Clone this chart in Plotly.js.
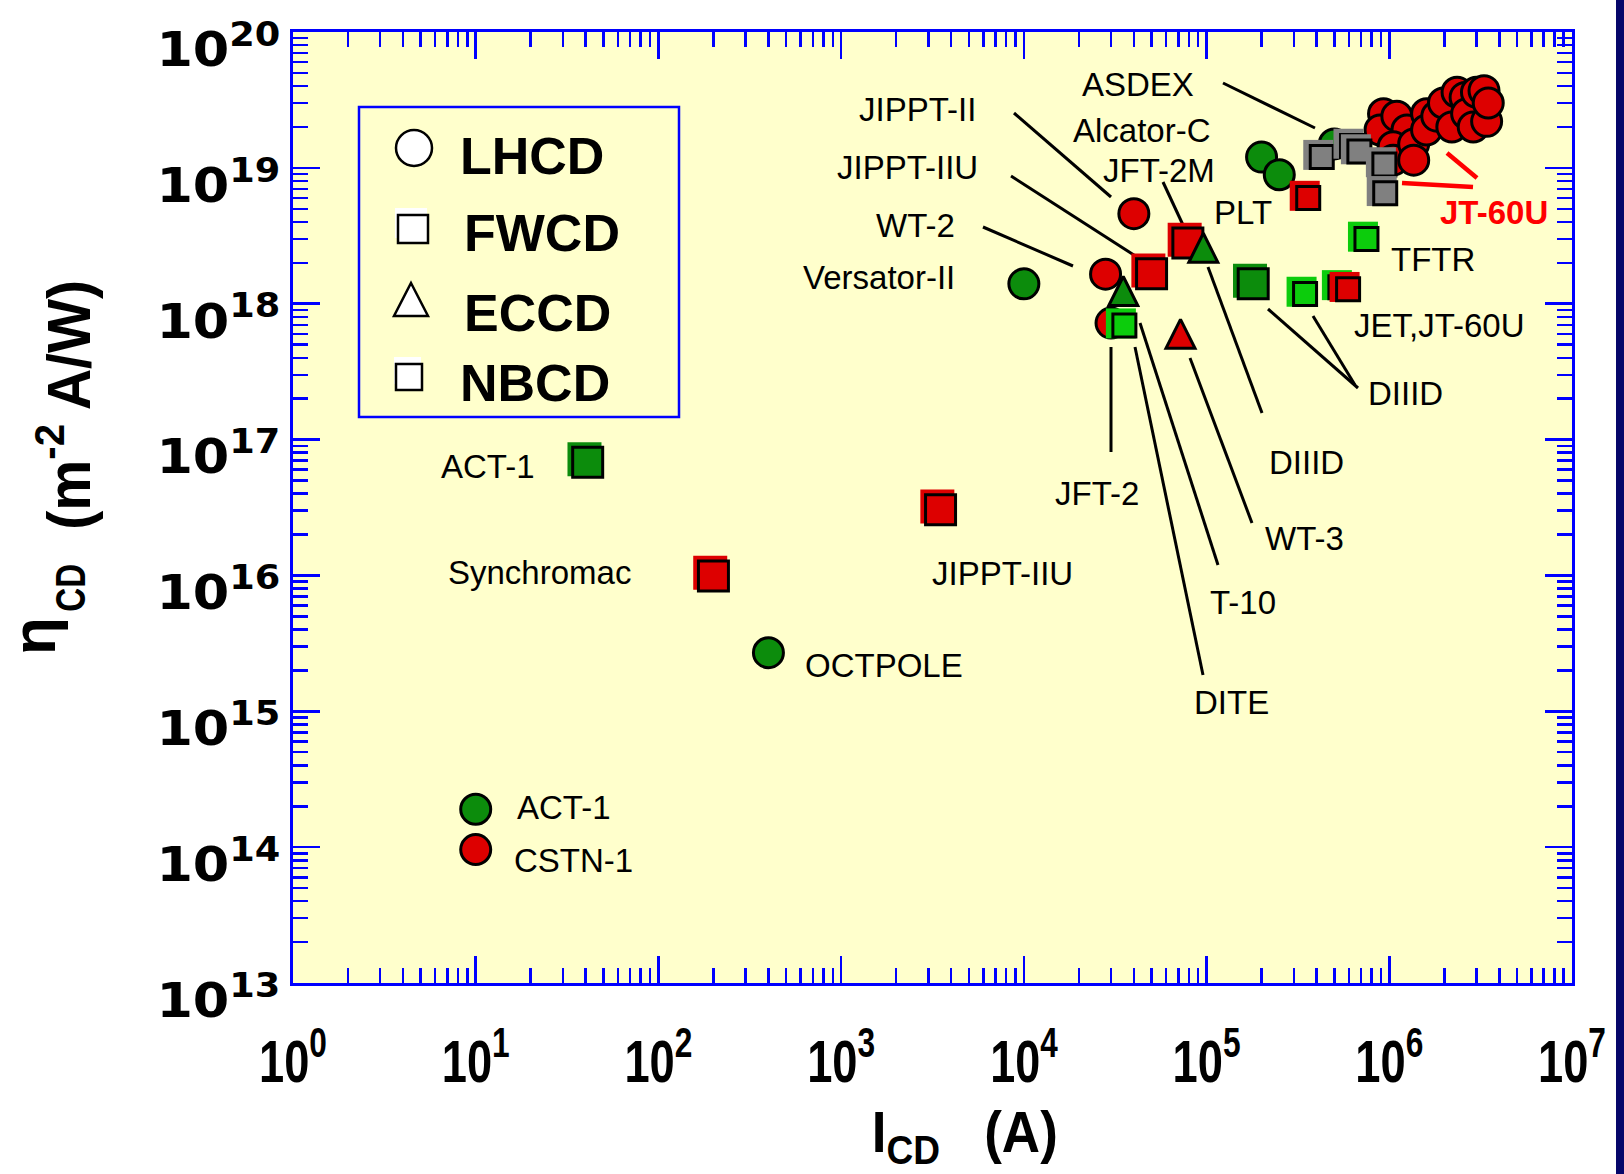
<!DOCTYPE html>
<html>
<head>
<meta charset="utf-8">
<script src="https://cdn.plot.ly/plotly-3.0.1.min.js"></script>
<style>
html,body{margin:0;padding:0;background:#ffffff;}
#chart{width:1624px;height:1174px;}
</style>
</head>
<body>
<div id="chart"></div>
<script>
// ================= DATA =================
const typeNames = ['LHCD', 'FWCD', 'ECCD', 'NBCD'];

// LHCD (circles)
const lhcdDevice = ['ACT-1','OCTPOLE','Versator-II','Alcator-C','Alcator-C','ASDEX','CSTN-1','WT-2','JFT-2','JIPPT-II',
  'JT-60U','JT-60U','JT-60U','JT-60U','JT-60U','JT-60U','JT-60U','JT-60U','JT-60U','JT-60U','JT-60U',
  'JT-60U','JT-60U','JT-60U','JT-60U','JT-60U','JT-60U','JT-60U','JT-60U','JT-60U','JT-60U'];
const lhcdCurrent = [10, 400, 1.0e4, 2.0e5, 2.5e5, 5.0e5, 10, 2.8e4, 3.0e4, 4.0e4,
  9.3e5, 8.9e5, 1.1e6, 1.25e6, 1.05e6, 1.05e6, 1.36e6, 1.36e6, 1.6e6, 1.6e6, 1.82e6,
  1.98e6, 2.2e6, 2.35e6, 2.6e6, 2.65e6, 2.88e6, 3.0e6, 3.3e6, 3.41e6, 3.48e6];
const lhcdEta = [1.9e14, 2.7e15, 1.4e18, 1.2e19, 8.9e18, 1.5e19, 9.6e13, 1.65e18, 7.2e17, 4.6e18,
  2.5e19, 1.9e19, 2.4e19, 1.9e19, 1.43e19, 1.14e19, 1.5e19, 1.14e19, 2.5e19, 1.9e19, 2.4e19,
  3.0e19, 2.0e19, 3.6e19, 3.3e19, 2.5e19, 2.0e19, 3.6e19, 3.7e19, 2.2e19, 3.0e19];
const lhcdGroup = ['green','green','green','green','green','green','red','red','red','red',
  'red','red','red','red','red','red','red','red','red','red','red',
  'red','red','red','red','red','red','red','red','red','red'];

// FWCD (large squares)
const fwcdDevice = ['ACT-1','Synchromac','JIPPT-IIU','JIPPT-IIU','JFT-2M','DIIID'];
const fwcdCurrent = [41, 200, 3.5e3, 5.0e4, 7.9e4, 1.8e5];
const fwcdEta = [6.8e16, 9.9e15, 3.05e16, 1.66e18, 2.8e18, 1.4e18];
const fwcdGroup = ['green','red','red','red','red','green'];

// ECCD (triangles)
const ecdDevice = ['JFT-2','DIIID','WT-3'];
const ecdCurrent = [3.5e4, 9.6e4, 7.2e4];
const ecdEta = [1.24e18, 2.58e18, 6.0e17];
const ecdGroup = ['green','green','red'];

// NBCD (small squares)
const nbcdDevice = ['DITE','TFTR','JET','JET','JT-60U','JT-60U','JT-60U','JT-60U','JT-60U','JT-60U','JT-60U'];
const nbcdCurrent = [3.55e4, 7.5e5, 3.46e5, 5.4e5, 5.95e5, 3.6e5, 4.27e5, 6.25e5, 6.86e5, 9.4e5, 9.5e5];
const nbcdEta = [6.9e17, 3.0e18, 1.18e18, 1.32e18, 1.28e18, 6.0e18, 1.2e19, 1.45e19, 1.32e19, 1.06e19, 6.5e18];
const nbcdGroup = ['lime','lime','lime','lime','red','red','gray','gray','gray','gray','gray'];

// Axis ticks
const xTickVals = [1, 10, 100, 1e3, 1e4, 1e5, 1e6, 1e7];
const xTickText = ['10<sup>0</sup>','10<sup>1</sup>','10<sup>2</sup>','10<sup>3</sup>','10<sup>4</sup>','10<sup>5</sup>','10<sup>6</sup>','10<sup>7</sup>'];
const yTickVals = [1e13, 1e14, 1e15, 1e16, 1e17, 1e18, 1e19, 1e20];
const yTickText = ['10<sup>13</sup>','10<sup>14</sup>','10<sup>15</sup>','10<sup>16</sup>','10<sup>17</sup>','10<sup>18</sup>','10<sup>19</sup>','10<sup>20</sup>'];

// Callout labels
const calloutText = ['ASDEX','Alcator-C','JFT-2M','PLT','JIPPT-II','JIPPT-IIU','WT-2','Versator-II',
  'TFTR','JET,JT-60U','DIIID','DIIID','JFT-2','WT-3','JIPPT-IIU','T-10','DITE','OCTPOLE',
  'Synchromac','ACT-1','ACT-1','CSTN-1'];
const highlightText = 'JT-60U';
const xTitle = 'I<sub>CD</sub>&nbsp;&nbsp;&nbsp;(A)';
const yTitleSymbol = '\u03b7';
const yTitleSub = 'CD';
const yTitleUnit = '(m<sup>-2</sup> A/W)';

// ================= LAYOUT / STYLE =================
const W = 1624, H = 1174;
const M = {l: 293, r: 52, t: 32, b: 191};
const PW = W - M.l - M.r, PH = H - M.t - M.b;
const px = X => (X - M.l) / PW;
const py = Y => (M.t + PH - Y) / PH;

const palette = {red: '#DD0000', green: '#0C8C0C', lime: '#0CCC0C', gray: '#808080'};
const BLUE = '#0000FF';
const labelFont = {family: 'Liberation Sans, Arial, sans-serif', size: 33, color: '#000000'};
const boldSans = 'Liberation Sans, Arial, sans-serif';

const decX = PW / 7, decY = PH / 7;
const shadow = (v, pxShift, dec) => v * Math.pow(10, pxShift / dec);

const traces = [];

// LHCD circles
traces.push({
  type: 'scatter', mode: 'markers', x: lhcdCurrent, y: lhcdEta, text: lhcdDevice,
  hoverinfo: 'skip', showlegend: false, cliponaxis: false,
  marker: {symbol: 'circle', size: 30, color: lhcdGroup.map(g => palette[g]), line: {color: '#000', width: 3}}
});

// FWCD squares (with offset shadow)
fwcdCurrent.forEach((xv, i) => {
  const c = palette[fwcdGroup[i]];
  traces.push({type: 'scatter', mode: 'markers', hoverinfo: 'skip', showlegend: false,
    x: [shadow(xv, -3.2, decX)], y: [shadow(fwcdEta[i], 3.2, decY)],
    marker: {symbol: 'square', size: 34, color: c, line: {width: 0}}});
  traces.push({type: 'scatter', mode: 'markers', hoverinfo: 'skip', showlegend: false,
    x: [xv], y: [fwcdEta[i]], text: [fwcdDevice[i]],
    marker: {symbol: 'square', size: 30, color: c, line: {color: '#000', width: 3}}});
});

// ECCD triangles
traces.push({
  type: 'scatter', mode: 'markers', x: ecdCurrent, y: ecdEta, text: ecdDevice,
  hoverinfo: 'skip', showlegend: false,
  marker: {symbol: 'arrow-down', angle: 180, standoff: 14.5, size: 29,
    color: ecdGroup.map(g => palette[g]), line: {color: '#000', width: 3}}
});

// NBCD squares (with offset shadow)
nbcdCurrent.forEach((xv, i) => {
  const c = palette[nbcdGroup[i]];
  traces.push({type: 'scatter', mode: 'markers', hoverinfo: 'skip', showlegend: false,
    x: [shadow(xv, -3.5, decX)], y: [shadow(nbcdEta[i], 2.2, decY)],
    marker: {symbol: 'square', size: 30, color: c, line: {width: 0}}});
  traces.push({type: 'scatter', mode: 'markers', hoverinfo: 'skip', showlegend: false,
    x: [xv], y: [nbcdEta[i]], text: [nbcdDevice[i]],
    marker: {symbol: 'square', size: 23, color: c, line: {color: '#000', width: 3}}});
});

// minor tick positions (2..9 within each decade)
const minorOf = vals => {
  const out = [];
  for (let d = 0; d < vals.length - 1; d++) for (let k = 2; k <= 9; k++) out.push(vals[d] * k);
  return out;
};

// callout placements (pixel positions of the label anchor)
const calloutPlace = [
  [1080, 85, 'left'], [1071, 130, 'left'], [1101, 170, 'left'], [1212, 212, 'left'],
  [978, 109, 'right'], [980, 167, 'right'], [957, 226, 'right'], [957, 278, 'right'],
  [1389, 260, 'left'], [1352, 326, 'left'], [1366, 394, 'left'], [1267, 463, 'left'],
  [1053, 493, 'left'], [1263, 538, 'left'], [1075, 573, 'right'], [1208, 602, 'left'],
  [1192, 702, 'left'], [803, 665, 'left'], [446, 572, 'left'], [439, 466, 'left'],
  [515, 807, 'left'], [512, 860, 'left']
];

const annotations = calloutText.map((t, i) => ({
  text: t, xref: 'paper', yref: 'paper', x: px(calloutPlace[i][0]), y: py(calloutPlace[i][1]),
  xanchor: calloutPlace[i][2], yanchor: 'middle', showarrow: false, font: labelFont
}));
annotations.push({text: highlightText, xref: 'paper', yref: 'paper', x: px(1438), y: py(212),
  xanchor: 'left', yanchor: 'middle', showarrow: false,
  font: {family: boldSans, size: 33, color: '#FF0000', weight: 'bold'}});

// axis titles
const X_TITLE_IDX = annotations.length;
annotations.push({text: xTitle, xref: 'paper', yref: 'paper', x: px(965), y: py(1136),
  xanchor: 'center', yanchor: 'middle', showarrow: false,
  font: {family: boldSans, size: 58, color: '#000', weight: 'bold'}});
const Y_SYM_IDX = annotations.length;
annotations.push({text: yTitleSymbol, xref: 'paper', yref: 'paper', x: px(33), y: py(636),
  xanchor: 'center', yanchor: 'middle', showarrow: false, textangle: -90,
  font: {family: boldSans, size: 62, color: '#000', weight: 'bold'}});
const Y_SUB_IDX = annotations.length;
annotations.push({text: yTitleSub, xref: 'paper', yref: 'paper', x: px(71), y: py(588),
  xanchor: 'center', yanchor: 'middle', showarrow: false, textangle: -90,
  font: {family: boldSans, size: 42, color: '#000', weight: 'bold'}});
const Y_UNIT_IDX = annotations.length;
annotations.push({text: yTitleUnit, xref: 'paper', yref: 'paper', x: px(64), y: py(405),
  xanchor: 'center', yanchor: 'middle', showarrow: false, textangle: -90,
  font: {family: boldSans, size: 62, color: '#000', weight: 'bold'}});

// legend texts
const legendPlace = [[458, 156], [462, 233], [462, 313], [458, 383]];
typeNames.forEach((t, i) => annotations.push({
  text: t, xref: 'paper', yref: 'paper', x: px(legendPlace[i][0]), y: py(legendPlace[i][1]),
  xanchor: 'left', yanchor: 'middle', showarrow: false,
  font: {family: boldSans, size: 52, color: '#000', weight: 'bold'}
}));

// shapes: leader lines, legend frame & symbols, right stripe
const leaderLines = [
  [1014, 113, 1111, 197], [1011, 176, 1137, 257], [983, 227, 1073, 266], [1223, 83, 1315, 128],
  [1163, 182, 1183, 225], [1268, 309, 1358, 388], [1313, 316, 1355, 385], [1208, 267, 1262, 413],
  [1111, 347, 1111, 452], [1190, 358, 1252, 523], [1140, 323, 1218, 565], [1135, 347, 1203, 675]
];
const redLines = [[1447, 153, 1477, 178], [1402, 183, 1473, 187]];
const shapes = [];
leaderLines.forEach(l => shapes.push({type: 'line', xref: 'paper', yref: 'paper', layer: 'below',
  x0: px(l[0]), y0: py(l[1]), x1: px(l[2]), y1: py(l[3]), line: {color: '#000', width: 3}}));
redLines.forEach(l => shapes.push({type: 'line', xref: 'paper', yref: 'paper', layer: 'above',
  x0: px(l[0]), y0: py(l[1]), x1: px(l[2]), y1: py(l[3]), line: {color: '#FF0000', width: 4.5}}));

// legend box
shapes.push({type: 'rect', xref: 'paper', yref: 'paper', layer: 'above',
  x0: px(359), x1: px(679), y0: py(417), y1: py(107), line: {color: BLUE, width: 2.5}, fillcolor: 'rgba(0,0,0,0)'});
// legend: circle
shapes.push({type: 'circle', xref: 'paper', yref: 'paper', layer: 'above',
  x0: px(396), x1: px(432), y0: py(166), y1: py(130), line: {color: '#000', width: 2.5}, fillcolor: '#FFFFFF'});
// legend: FWCD square with white shadow
shapes.push({type: 'rect', xref: 'paper', yref: 'paper', layer: 'above',
  x0: px(395), x1: px(427), y0: py(238), y1: py(208), line: {width: 0}, fillcolor: '#FFFFFF'});
shapes.push({type: 'rect', xref: 'paper', yref: 'paper', layer: 'above',
  x0: px(398), x1: px(428), y0: py(243), y1: py(215), line: {color: '#000', width: 2.5}, fillcolor: '#FFFFFF'});
// legend: ECCD triangle
shapes.push({type: 'path', xref: 'paper', yref: 'paper', layer: 'above',
  path: `M${px(411)},${py(283)} L${px(428)},${py(316)} L${px(394)},${py(316)} Z`,
  line: {color: '#000', width: 2.5}, fillcolor: '#FFFFFF'});
// legend: NBCD square with white shadow
shapes.push({type: 'rect', xref: 'paper', yref: 'paper', layer: 'above',
  x0: px(394), x1: px(421), y0: py(384), y1: py(357), line: {width: 0}, fillcolor: '#FFFFFF'});
shapes.push({type: 'rect', xref: 'paper', yref: 'paper', layer: 'above',
  x0: px(396), x1: px(422), y0: py(390), y1: py(364), line: {color: '#000', width: 2.5}, fillcolor: '#FFFFFF'});
// dark stripe on the right edge of the slide
shapes.push({type: 'rect', xref: 'paper', yref: 'paper', layer: 'below',
  x0: px(1616), x1: px(1630), y0: py(1180), y1: py(-10), line: {width: 0}, fillcolor: '#06066A'});

const axisCommon = {
  type: 'log', tickmode: 'array', ticks: 'inside', ticklen: 27, tickwidth: 2.5, tickcolor: BLUE,
  showline: true, linecolor: BLUE, linewidth: 3, mirror: 'allticks',
  showgrid: false, zeroline: false, fixedrange: true, ticklabeloverflow: 'allow'
};

const layout = {
  width: W, height: H, margin: M,
  paper_bgcolor: '#FFFFFF', plot_bgcolor: '#FFFFCC',
  showlegend: false,
  xaxis: Object.assign({}, axisCommon, {
    range: [-0.000001, 7.000001], tickvals: xTickVals, ticktext: xTickText,
    tickfont: {family: boldSans, size: 60, color: '#000', weight: 'bold'},
    ticklabelstandoff: 24,
    minor: {tickvals: minorOf(xTickVals), ticks: 'inside', ticklen: 15, tickwidth: 2.5, tickcolor: BLUE, showgrid: false}
  }),
  yaxis: Object.assign({}, axisCommon, {
    range: [12.999999, 20.000001], tickvals: yTickVals, ticktext: yTickText,
    tickfont: {family: 'DejaVu Sans, sans-serif', size: 48, color: '#000', weight: 'bold'},
    ticklabelstandoff: 0, ticklabelshift: 17,
    minor: {tickvals: minorOf(yTickVals), ticks: 'inside', ticklen: 15, tickwidth: 2.5, tickcolor: BLUE, showgrid: false}
  }),
  annotations: annotations,
  shapes: shapes
};

// The original uses a condensed face for the x labels/titles and an extended face
// for the y labels; emulate those widths by scaling the text horizontally.
function fitWidth(el, target, anchor) {
  if (!el) return;
  const b = el.getBBox();
  if (!b.width) return;
  const s = target / b.width;
  const cx = anchor === 'end' ? b.x + b.width : b.x + b.width / 2;
  const base = el.getAttribute('transform') || '';
  el.setAttribute('transform', `${base} translate(${cx},0) scale(${s},1) translate(${-cx},0)`);
}
const annText = (gd, i) => gd.querySelector(`.annotation[data-index="${i}"] text`);

Plotly.newPlot('chart', traces, layout, {staticPlot: true, displayModeBar: false}).then(gd => {
  gd.querySelectorAll('.xtick text').forEach(t => fitWidth(t, 68, 'center'));
  gd.querySelectorAll('.ytick text').forEach(t => fitWidth(t, 124, 'end'));
  fitWidth(annText(gd, X_TITLE_IDX), 186, 'center');
  fitWidth(annText(gd, Y_SUB_IDX), 48, 'center');
  fitWidth(annText(gd, Y_UNIT_IDX), 250, 'center');
});
</script>
</body>
</html>
